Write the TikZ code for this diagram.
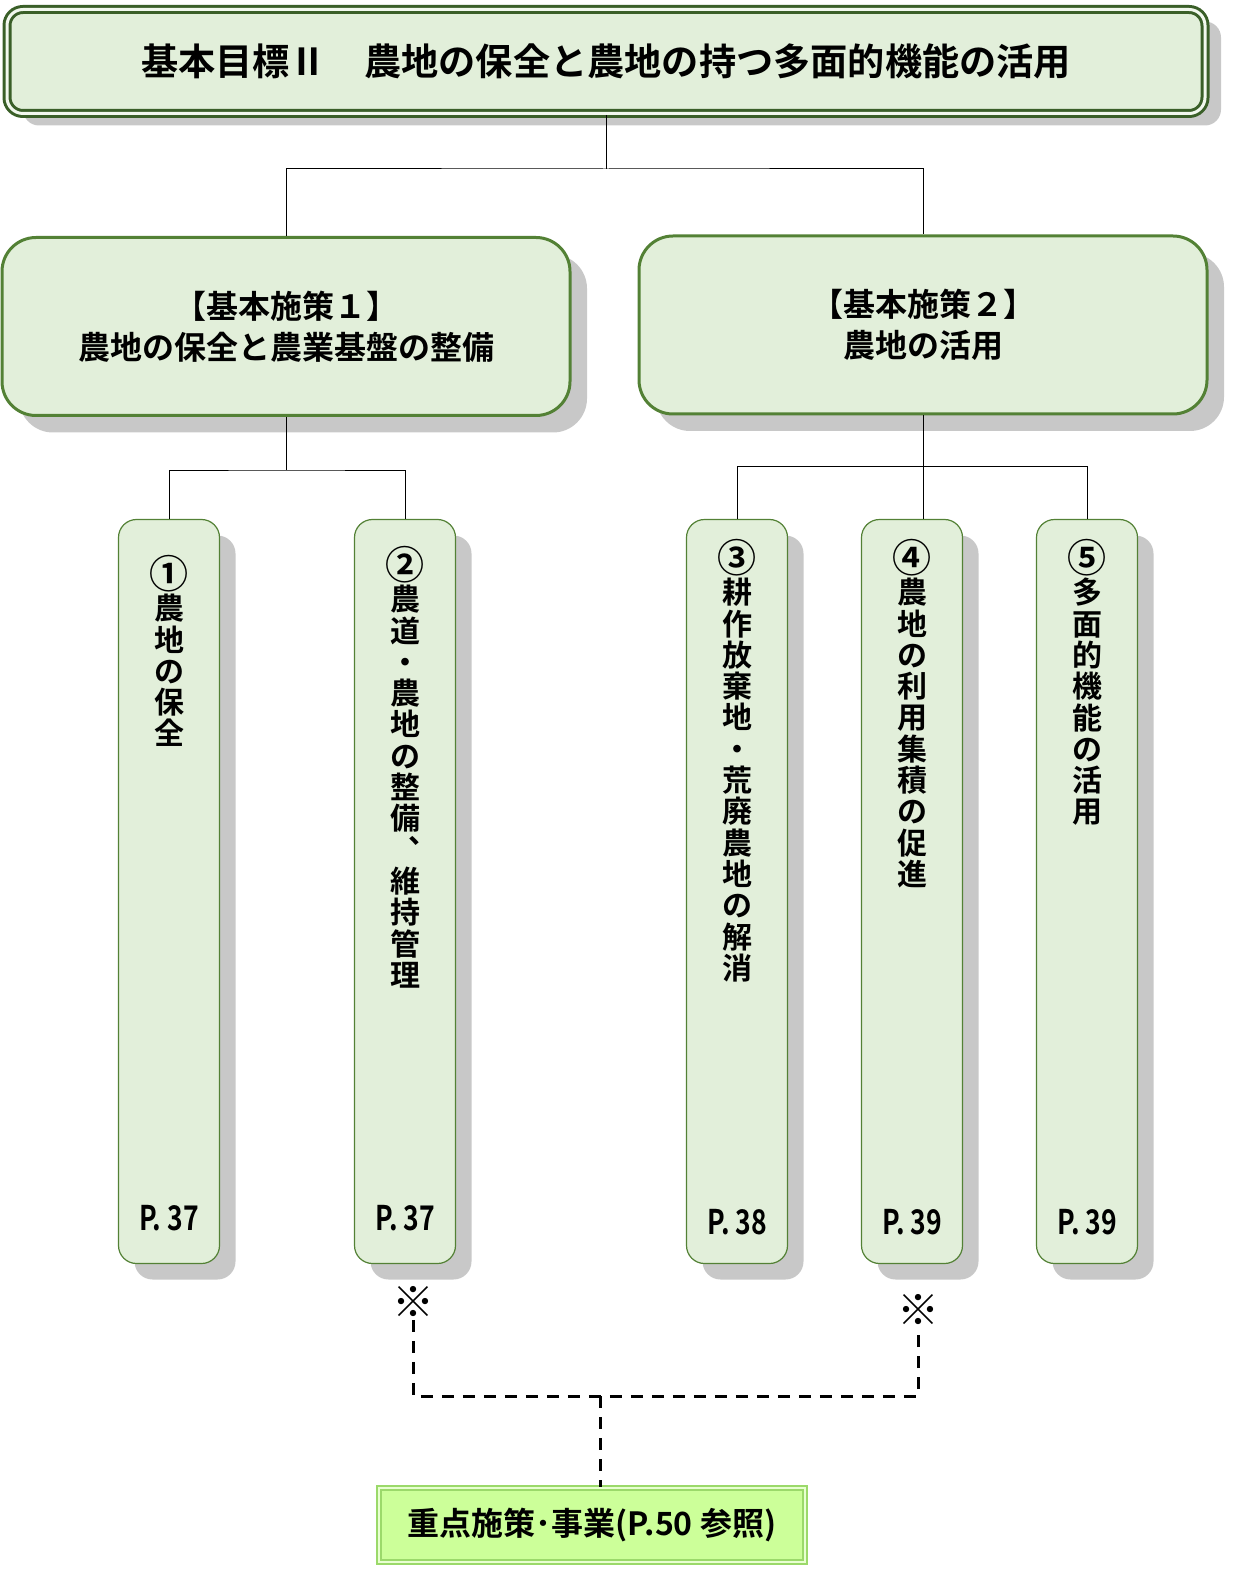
\documentclass[tikz,border=0pt]{standalone}
\usepackage{fontspec}
\usepackage{graphicx}
\usepackage{xcolor}
\usepackage{tikz}
\usetikzlibrary{shadows}
\newfontfamily\jpfont{Noto Sans CJK JP Bold}
\definecolor{leaf}{HTML}{E2EFDA}
\definecolor{stem}{HTML}{538135}
\definecolor{deepstem}{HTML}{3A5F28}
\definecolor{shade}{HTML}{C8C8C8}
\definecolor{lime}{HTML}{CCFF99}
\definecolor{limeedge}{HTML}{9BD96A}
\newcommand{\circnum}[1]{\raisebox{-0.1em}{\scalebox{1.3}{#1}}}
\tikzset{
  shade box/.style={drop shadow={shadow xshift=#1, shadow yshift=-#1, fill=shade, opacity=1}},
  goalbox/.style={draw=deepstem, line width=1.5pt, double=leaf!45!white, double distance=1.5pt,
    fill=leaf, rounded corners=8pt, minimum width=599pt, minimum height=52pt,
    drop shadow={shadow xshift=8pt, shadow yshift=-6pt, fill=shade, opacity=1},
    font=\jpfont\fontsize{18.6}{22}\selectfont},
  polbox/.style={draw=stem, line width=1.5pt, fill=leaf, rounded corners=17pt,
    minimum width=284pt, minimum height=89pt, align=center, shade box=8.5pt,
    font=\jpfont\fontsize{16}{20.5}\selectfont},
  itembox/.style={draw=stem, line width=0.6pt, fill=leaf, rounded corners=9pt,
    minimum width=50.5pt, minimum height=372pt, shade box=8pt},
  vtext/.style={anchor=north, align=center, inner sep=0pt, font=\jpfont\fontsize{15}{15.65}\selectfont},
  pagetext/.style={inner sep=0pt, font=\jpfont\fontsize{17}{17}\selectfont},
  kome/.style={inner sep=1pt, font=\jpfont\fontsize{21}{21}\selectfont},
  focusbox/.style={draw=limeedge, line width=1pt, double=lime!45!white, double distance=1.2pt,
    fill=lime, minimum width=212.8pt, minimum height=36.8pt,
    font=\jpfont\fontsize{16}{16}\selectfont},
  link/.style={draw=black, line width=0.5pt},
  dashlink/.style={draw=black, line width=1.5pt, dash pattern=on 6pt off 4.5pt}
}
\begin{document}
\begin{tikzpicture}[x=0.5pt, y=-0.5pt]
\useasboundingbox (0,0) rectangle (1236,1577);

% goal and policies
\node[goalbox] (goal) at (606,61.5) {基本目標Ⅱ　農地の保全と農地の持つ多面的機能の活用};
\node[polbox] (pol1) at (286,326.5) {【基本施策１】\\農地の保全と農業基盤の整備};
\node[polbox] (pol2) at (923,325) {【基本施策２】\\農地の活用};

% measures
\foreach \n/\x/\ty/\txt/\py/\pg in {
    1/169/555/{\circnum{①}\\農\\地\\の\\保\\全}/1218/37,
    2/405/546/{\circnum{②}\\農\\道\\・\\農\\地\\の\\整\\備\\︑\\維\\持\\管\\理}/1218/37,
    3/737/539/{\circnum{③}\\耕\\作\\放\\棄\\地\\・\\荒\\廃\\農\\地\\の\\解\\消}/1222/38,
    4/912/539/{\circnum{④}\\農\\地\\の\\利\\用\\集\\積\\の\\促\\進}/1222/39,
    5/1087/539/{\circnum{⑤}\\多\\面\\的\\機\\能\\の\\活\\用}/1222/39}
{
  \node[itembox] (b\n) at (\x,891.5) {};
  \node[vtext] (t\n) at (\x,\ty) {\txt};
  \node[pagetext] (p\n) at (\x,\py) {\scalebox{0.78}[1]{P. \pg}};
}

\draw[link] (goal.south) -- ++(0,54) coordinate (j0);
\draw[link] (pol1.north) |- (j0) -| (pol2.north);
\draw[link] (pol1.south) -- ++(0,53) coordinate (j1);
\draw[link] (b1.north) |- (j1) -| (b2.north);
\draw[link] (pol2.south) -- ++(0,51) coordinate (j2);
\draw[link] (b3.north) |- (j2) -| (b5.north);
\draw[link] (j2) -- (j2 |- b4.north);

% focus measures
\node[kome] (k1) at (413,1302) {※};
\node[kome] (k2) at (918,1310) {※};
\node[focusbox] (focus) at (592,1525) {重点施策･事業(P.50 参照)};
\coordinate (dj) at (600,1396);
\draw[dashlink] (k1.south) |- (dj) -| (k2.south);
\draw[dashlink] (dj) -- (dj |- focus.north);
\end{tikzpicture}
\end{document}
